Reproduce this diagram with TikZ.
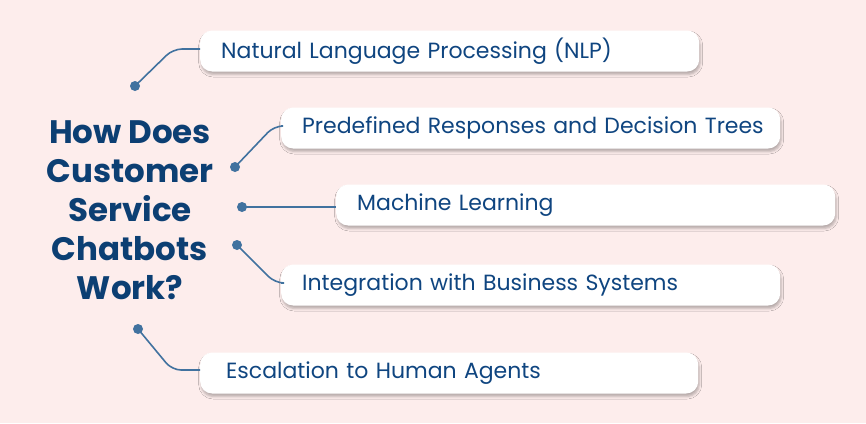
\documentclass[tikz,border=0pt]{standalone}
\usepackage{fontspec}
\setmainfont{Poppins}
\usetikzlibrary{shadows.blur}

\definecolor{bgpink}{HTML}{FDEDEC}
\definecolor{titleblue}{HTML}{0C3F73}
\definecolor{textblue}{HTML}{0F4580}
\definecolor{linkblue}{HTML}{41729F}

\tikzset{
  itembox/.style={fill=white, rounded corners=12pt, minimum height=41pt,
    inner xsep=21pt, inner ysep=0pt, text width=457pt, align=left,
    text=textblue, font=\fontsize{22}{24}\selectfont,
    blur shadow={shadow xshift=1pt, shadow yshift=-3pt,
      shadow blur radius=2.5pt, shadow opacity=28}},
  dot/.style={circle, fill=linkblue, inner sep=0pt, minimum size=10pt},
  link/.style={draw=linkblue, line width=1.6pt, rounded corners=9pt}
}

\begin{document}
\begin{tikzpicture}[x=1pt, y=-1pt]

  % Achtergrond
  \fill[bgpink] (0,0) rectangle (866,423);
  \useasboundingbox (0,0) rectangle (866,423);

  % Titel
  \node[text=titleblue, align=center, font=\bfseries\fontsize{32.5}{39}\selectfont]
    (title) at (130,210) {How Does\\Customer\\Service\\Chatbots\\Work?};

  % Vakjes
  \node[itembox, anchor=west] (nlp) at (200,51) {\mbox{Natural Language Processing (NLP)}};
  \node[itembox, anchor=west] (trees) at (281,128) {\mbox{Predefined Responses and Decision Trees}};
  \node[itembox, anchor=west] (ml) at (336,205) {\mbox{Machine Learning}};
  \node[itembox, anchor=west] (integ) at (281,285) {\mbox{Integration with Business Systems}};
  \node[itembox, anchor=west, inner xsep=26pt, text width=446pt] (human) at (200,373)
    {\mbox{Escalation to Human Agents}};

  % Punten
  \node[dot] (d1) at (135,86) {};
  \node[dot] (d2) at (235,167) {};
  \node[dot] (d3) at (242,207) {};
  \node[dot] (d4) at (237,245) {};
  \node[dot] (d5) at (138,329) {};

  % Verbindingen
  \draw[link] (d1.center) -- (173,49) -- (nlp.west |- 0,49);
  \draw[link] (d2.center) -- (274,126) -- (trees.west |- 0,126);
  \draw[link] (d3.center) -- (d3.center -| ml.west);
  \draw[link] (d4.center) -- (275,283) -- (integ.west |- 0,283);
  \draw[link] (d5.center) -- (172,370) -- (human.west |- 0,370);

\end{tikzpicture}
\end{document}
